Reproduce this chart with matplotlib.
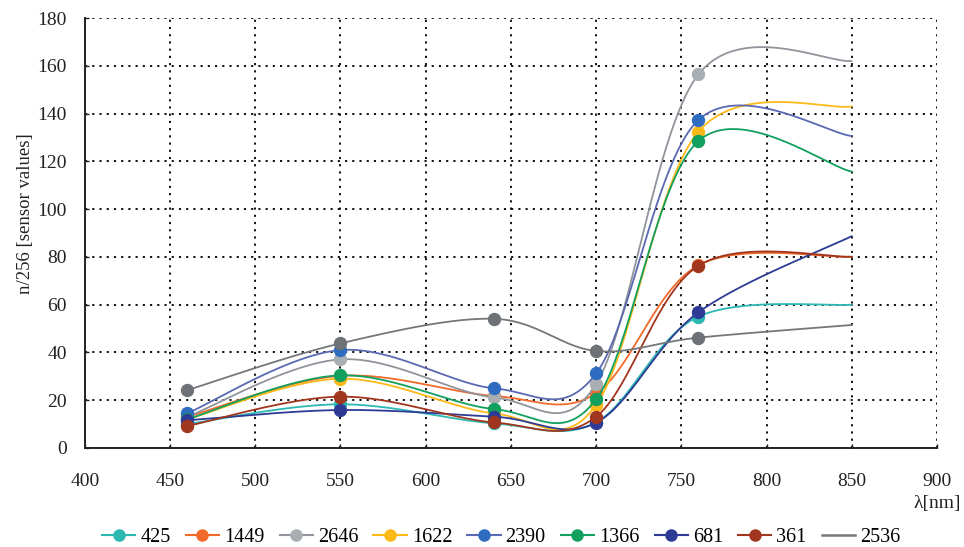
import numpy as np
import matplotlib
matplotlib.use("Agg")
import matplotlib.pyplot as plt
from matplotlib.lines import Line2D

plt.rcParams['font.family'] = ['Liberation Serif', 'DejaVu Serif']

wavelengths = [460, 550, 640, 700, 760, 850]
series_names = ["425", "1449", "2646", "1622", "2390", "1366", "681", "361", "2536"]
v425 = [10, 18.3, 10.3, 10.8, 55, 60]
v1449 = [13, 30.2, 21.8, 22.9, 76.5, 80]
v2646 = [13, 37.1, 21.2, 26.8, 156.4, 162]
v1622 = [12, 29, 14.5, 18, 132.4, 143]
v2390 = [14.5, 41, 25, 31.2, 137.3, 130.6]
v1366 = [12, 30.4, 16.3, 20.4, 128.5, 115.7]
v681 = [11.6, 15.9, 13.1, 10.6, 56.8, 88.7]
v361 = [9.2, 21.5, 10.7, 13.1, 76.3, 80.1]
v2536 = [24.2, 43.8, 54.1, 40.6, 46.2, 51.5]
values = [v425, v1449, v2646, v1622, v2390, v1366, v681, v361, v2536]

line_colors = ["#2bb8b3", "#f26a2a", "#8f959b", "#fdb918", "#5b68b2", "#12a05e", "#2e3b95", "#a1361f", "#74777b"]
marker_colors = ["#2bb8b3", "#f26a2a", "#a9aeb2", "#fdb918", "#2e6cbf", "#12a05e", "#2e3b95", "#a1361f", "#6e7276"]
has_marker_legend = [True] * 8 + [False]


def smooth(xs, ys, n=60):
    P = np.column_stack([xs, ys]).astype(float)
    m = len(P)
    out = []
    for i in range(m - 1):
        p0 = P[i - 1] if i > 0 else P[i]
        p1 = P[i]
        p2 = P[i + 1]
        p3 = P[i + 2] if i + 2 < m else P[i + 1]
        c1 = p1 + (p2 - p0) / 6.0
        c2 = p2 - (p3 - p1) / 6.0
        t = np.linspace(0, 1, n)[:, None]
        b = ((1 - t) ** 3) * p1 + 3 * t * (1 - t) ** 2 * c1 + 3 * t ** 2 * (1 - t) * c2 + t ** 3 * p2
        out.append(b if i == 0 else b[1:])
    out = np.vstack(out)
    return out[:, 0], out[:, 1]


fig = plt.figure(figsize=(9.64, 5.47), dpi=100)
ax = fig.add_axes([0.088, 0.181, 0.884, 0.786])

handles = []
for k, (name, vals) in enumerate(zip(series_names, values)):
    sx, sy = smooth(wavelengths, vals)
    ax.plot(sx, sy, color=line_colors[k], lw=1.3, zorder=3 + k, solid_capstyle='round')
    ax.plot(wavelengths[:-1], vals[:-1], linestyle='none', marker='o', ms=8.8,
            markerfacecolor=marker_colors[k], markeredgecolor=marker_colors[k],
            markeredgewidth=0.8, zorder=3 + k)
    if has_marker_legend[k]:
        h = Line2D([], [], color=line_colors[k], lw=1.5, marker='o', ms=8,
                   markerfacecolor=marker_colors[k], markeredgecolor=marker_colors[k])
    else:
        h = Line2D([], [], color=line_colors[k], lw=1.8)
    handles.append(h)

ax.set_xlim(400, 900)
ax.set_ylim(0, 180)
ax.set_xticks(np.arange(400, 901, 50))
ax.set_yticks(np.arange(0, 181, 20))
ax.grid(True, color='black', linestyle=(0, (1.2, 2.8)), linewidth=1.3)
ax.set_axisbelow(True)
for s in ['top', 'right']:
    ax.spines[s].set_visible(False)
for s in ['left', 'bottom']:
    ax.spines[s].set_linewidth(1.4)
    ax.spines[s].set_color('#222222')
ax.tick_params(axis='both', direction='in', length=3, width=1, labelsize=14, colors='#222222')
ax.tick_params(axis='x', pad=18)
ax.tick_params(axis='y', pad=13)
fig.text(0.026, 0.61, "n/256 [sensor values]", fontsize=13.5, rotation=90,
         ha='center', va='center', color='#222222')
fig.text(0.997, 0.079, "λ[nm]", fontsize=14, ha='right', va='center', color='#222222')

fig.legend(handles=handles, labels=series_names, loc='center', ncol=9,
           bbox_to_anchor=(0.52, 0.018), frameon=False, fontsize=14.5,
           handlelength=1.65, handletextpad=0.25, columnspacing=0.75)

fig.savefig("out.png", dpi=100)
